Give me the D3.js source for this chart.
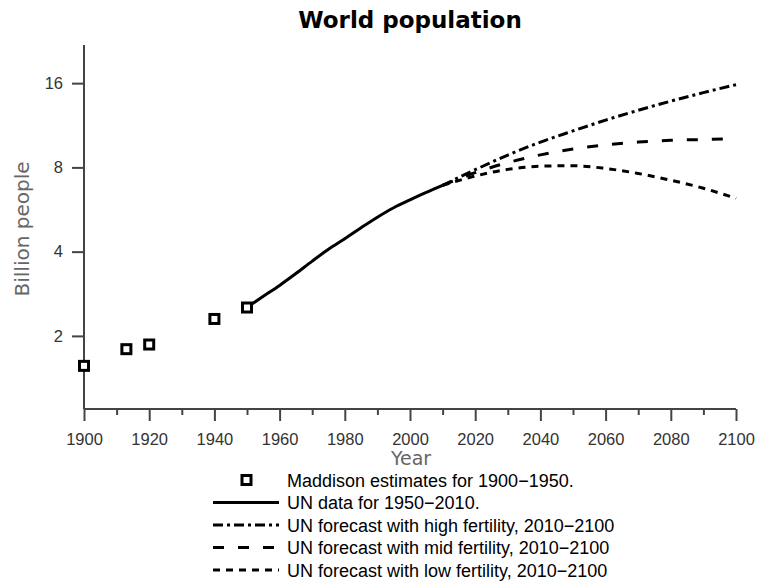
<!DOCTYPE html>
<html lang="en">
<head>
<meta charset="UTF-8">
<title>World population</title>
<style>
body { margin: 0; background: #fff; }
text { font-family: 'Liberation Sans', Arial, sans-serif; }
.title { font-family: 'DejaVu Sans', sans-serif; font-weight: bold; font-size: 23px; }
.tick text { font-size: 16.5px; fill: #333; }
.axis-label { font-family: 'DejaVu Sans', sans-serif; font-size: 20px; fill: #666; }
.legend text { font-size: 18px; fill: #000; }
</style>
</head>
<body>
<div id="vis"></div>
<script src="https://d3js.org/d3.v7.min.js"></script>
<script>
const width = 759;
const height = 584;

// Maddison estimates, billions
const maddisonYears = [1900, 1913, 1920, 1940, 1950];
const maddisonPop = [1.563, 1.793, 1.863, 2.299, 2.526];

// UN data 1950-2010
const unYears = [1950, 1955, 1960, 1965, 1970, 1975, 1980, 1985, 1990, 1995, 2000, 2005, 2010];
const unPop = [2.53, 2.77, 3.03, 3.34, 3.70, 4.08, 4.45, 4.87, 5.31, 5.74, 6.12, 6.51, 6.90];

// UN forecasts 2010-2100
const fcYears = [2010, 2020, 2030, 2040, 2050, 2060, 2070, 2080, 2090, 2100];
const highPop = [6.90, 7.85, 8.85, 9.85, 10.8, 11.8, 12.8, 13.8, 14.8, 15.8];
const midPop = [6.90, 7.66, 8.32, 8.87, 9.31, 9.62, 9.85, 10.0, 10.06, 10.12];
const lowPop = [6.90, 7.45, 7.87, 8.08, 8.11, 7.93, 7.61, 7.20, 6.74, 6.20];

const yTicks = [2, 4, 8, 16];
const legendLabels = [
  "Maddison estimates for 1900\u22121950.",
  "UN data for 1950\u22122010.",
  "UN forecast with high fertility, 2010\u22122100",
  "UN forecast with mid fertility, 2010\u22122100",
  "UN forecast with low fertility, 2010\u22122100"
];

const svg = d3.select("#vis").append("svg")
  .attr("width", width)
  .attr("height", height);

const xScale = d3.scaleLinear().domain([1900, 2100]).range([84, 736]);
const yScale = d3.scaleLog().base(2).domain([1.096, 21.9]).range([409, 45]);

svg.append("text")
  .attr("class", "title")
  .attr("x", 410)
  .attr("y", 28)
  .attr("text-anchor", "middle")
  .text("World population");

// x axis, major and minor ticks
const xAxis = svg.append("g")
  .attr("transform", "translate(0,409)")
  .call(d3.axisBottom(xScale).tickValues(d3.range(1900, 2101, 20)).tickFormat(d3.format("d")).tickSize(12).tickPadding(12));
svg.append("g")
  .attr("transform", "translate(0,409)")
  .call(d3.axisBottom(xScale).tickValues(d3.range(1910, 2100, 20)).tickFormat("").tickSize(6))
  .select(".domain").remove();

// y axis
const yAxis = svg.append("g")
  .attr("transform", "translate(84,0)")
  .call(d3.axisLeft(yScale).tickValues(yTicks).tickFormat(d3.format("d")).tickSize(12).tickPadding(9));

svg.selectAll(".domain").attr("stroke", "#444").attr("stroke-width", 2);
svg.selectAll(".tick line").attr("stroke", "#444").attr("stroke-width", 2);
// plain domain lines without outer ticks
xAxis.select(".domain").attr("d", "M" + xScale(1900) + ",0H" + xScale(2100));
yAxis.select(".domain").attr("d", "M0," + yScale.range()[1] + "V" + yScale.range()[0]);

svg.append("text")
  .attr("class", "axis-label")
  .attr("x", 411)
  .attr("y", 465)
  .style("font-size", "19px")
  .attr("text-anchor", "middle")
  .text("Year");

svg.append("text")
  .attr("class", "axis-label")
  .attr("transform", "translate(29,229) rotate(-90)")
  .attr("text-anchor", "middle")
  .text("Billion people");

const line = d3.line()
  .x(d => xScale(d[0]))
  .y(d => yScale(d[1]))
  .curve(d3.curveMonotoneX);

const dashes = [null, "10,4,3,4", "11,14", "7,6"];
const series = [
  { years: unYears, values: unPop },
  { years: fcYears, values: highPop },
  { years: fcYears, values: midPop },
  { years: fcYears, values: lowPop }
];

svg.selectAll("path.series")
  .data(series)
  .enter().append("path")
  .attr("class", "series")
  .attr("d", s => line(s.years.map((y, i) => [y, s.values[i]])))
  .attr("fill", "none")
  .attr("stroke", "#000")
  .attr("stroke-width", 3)
  .attr("stroke-dasharray", (s, i) => dashes[i]);

svg.selectAll("rect.maddison")
  .data(maddisonYears.map((y, i) => [y, maddisonPop[i]]))
  .enter().append("rect")
  .attr("class", "maddison")
  .attr("x", d => xScale(d[0]) - 4.5)
  .attr("y", d => yScale(d[1]) - 4.5)
  .attr("width", 9)
  .attr("height", 9)
  .attr("fill", "#fff")
  .attr("stroke", "#000")
  .attr("stroke-width", 3);

// legend
const legend = svg.append("g").attr("class", "legend");
const rowY = d3.scaleLinear().domain([0, 4]).range([480, 570]);

legendLabels.forEach((lab, i) => {
  const y = rowY(i);
  if (i === 0) {
    legend.append("rect")
      .attr("x", 242).attr("y", y - 4.5)
      .attr("width", 9).attr("height", 9)
      .attr("fill", "#fff").attr("stroke", "#000").attr("stroke-width", 3);
  } else {
    legend.append("line")
      .attr("x1", 213).attr("x2", 279)
      .attr("y1", y).attr("y2", y)
      .attr("stroke", "#000").attr("stroke-width", 3)
      .attr("stroke-dasharray", dashes[i - 1]);
  }
  legend.append("text")
    .attr("x", 287)
    .attr("y", y + 6.5)
    .text(lab);
});
</script>
</body>
</html>
